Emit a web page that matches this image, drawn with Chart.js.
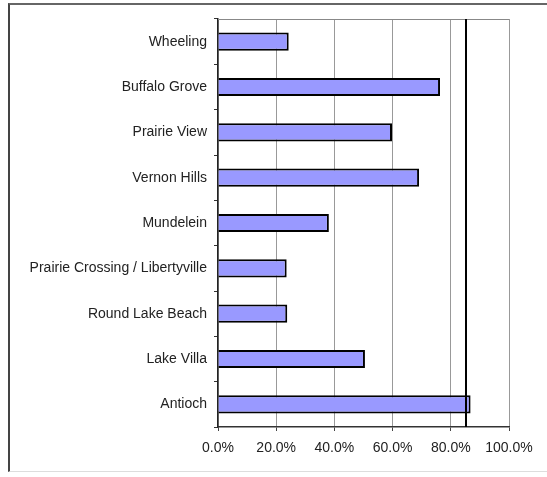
<!DOCTYPE html>
<html>
<head>
<meta charset="utf-8">
<script src="https://cdn.jsdelivr.net/npm/chart.js@4/dist/chart.umd.min.js"></script>
<style>
  html, body { margin: 0; padding: 0; background: #fff; }
  #wrap { position: relative; width: 547px; height: 477px; }
  #frame {
    position: absolute; left: 8px; top: 3px; width: 545px; height: 469px;
    border-top: 2px solid #666; border-left: 2px solid #444; border-bottom: 1px solid #ddd;
    box-sizing: border-box; pointer-events: none;
  }
  canvas { position: absolute; left: 0; top: 0; }
</style>
</head>
<body>
<div id="wrap">
  <canvas id="chart" width="547" height="477"></canvas>
  <div id="frame"></div>
</div>
<script>
const places = ["Wheeling", "Buffalo Grove", "Prairie View", "Vernon Hills", "Mundelein",
  "Prairie Crossing / Libertyville", "Round Lake Beach", "Lake Villa", "Antioch"]
const shares = [24.3, 76.3, 59.8, 69.1, 38.1, 23.6, 23.8, 50.5, 86.8]
const xTicks = [0, 20, 40, 60, 80, 100]
const markerValue = 85.2

// plot frame on top + the black marker line
const extras = {
    id: "extras",
    beforeDatasetsDraw(chart) {
        const { ctx, chartArea } = chart
        ctx.save()
        ctx.strokeStyle = "#888"
        ctx.lineWidth = 1
        ctx.beginPath()
        ctx.moveTo(chartArea.left, chartArea.top + 0.5)
        ctx.lineTo(chartArea.right, chartArea.top + 0.5)
        ctx.stroke()
        ctx.restore()
    },
    afterDatasetsDraw(chart) {
        const { ctx, chartArea } = chart
        const x = Math.round(chart.scales.x.getPixelForValue(markerValue))
        ctx.save()
        ctx.strokeStyle = "#000"
        ctx.lineWidth = 2
        ctx.beginPath()
        ctx.moveTo(x, chartArea.top)
        ctx.lineTo(x, chartArea.bottom)
        ctx.stroke()
        ctx.restore()
    }
}

new Chart(document.getElementById("chart").getContext("2d"), {
    type: "bar",
    data: {
        labels: places,
        datasets: [
            {
                data: shares,
                backgroundColor: "#9999FF",
                borderColor: "#000",
                borderWidth: 2,
                barPercentage: 0.4,
                categoryPercentage: 1.0
            }
        ]
    },
    options: {
        indexAxis: "y",
        responsive: false,
        animation: false,
        layout: { padding: { left: 0, top: 19, right: 38, bottom: 20 } },
        plugins: { legend: { display: false }, tooltip: { enabled: false } },
        scales: {
            x: {
                min: 0,
                max: 100,
                afterBuildTicks: s => { s.ticks = xTicks.map(v => ({ value: v })) },
                afterFit: s => { s.height = 30 },
                grid: { color: "#999", lineWidth: 1, tickLength: 4, tickColor: "#444" },
                border: { color: "#333", width: 1.5 },
                ticks: {
                    color: "#222",
                    padding: 9,
                    font: { family: "Liberation Sans, Arial", size: 14 },
                    callback: v => v.toFixed(1) + "%"
                }
            },
            y: {
                afterFit: s => { s.width = 218 },
                grid: { drawOnChartArea: false, tickLength: 4, color: "#333" },
                border: { color: "#222", width: 1.5 },
                ticks: {
                    color: "#222",
                    padding: 7,
                    font: { family: "Liberation Sans, Arial", size: 14 }
                }
            }
        }
    },
    plugins: [extras]
})
</script>
</body>
</html>
